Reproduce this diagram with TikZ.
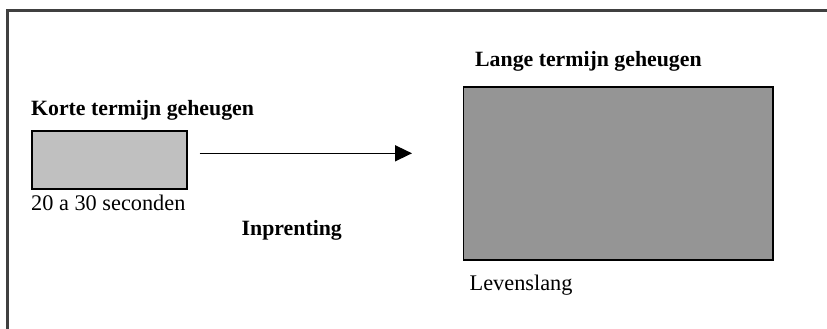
\documentclass[tikz,border=0pt]{standalone}
\usepackage{fontspec}
\setmainfont{Liberation Serif}
\usetikzlibrary{arrows.meta}
\definecolor{framegray}{HTML}{404040}
\definecolor{shortfill}{HTML}{C0C0C0}
\definecolor{longfill}{HTML}{959595}
\tikzset{
  memlabel/.style={anchor=base west, inner sep=0pt, font=\fontsize{21.8}{24}\selectfont\bfseries},
  notelabel/.style={anchor=base west, inner sep=0pt, font=\fontsize{22.3}{24}\selectfont},
  membox/.style={draw=black, line width=1.8pt},
  flow/.style={line width=1.6pt, -{Triangle[length=17pt, width=16pt]}}
}
\begin{document}
\begin{tikzpicture}[x=1pt, y=-1pt]
  \useasboundingbox (0,0) rectangle (827,329);
  \fill[white] (0,0) rectangle (827,329);
  \begin{scope}
    \clip (0,0) rectangle (827,329);
    % outer frame (runs past the right and bottom edges)
    \draw[framegray, line width=2.5pt] (7.5,345) -- (7.5,10.5) -- (845,10.5);
  \end{scope}

  % short-term memory
  \draw[membox, fill=shortfill] (32,131) rectangle (187,189);
  \coordinate (stm) at (187,160);
  \node[memlabel] (stmlabel) at (31,115) {Korte termijn geheugen};
  \node[notelabel] (stmtime) at (31,210) {20 a 30 seconden};

  % long-term memory
  \draw[membox, fill=longfill] (463.5,87) rectangle (773,260);
  \node[memlabel] (ltmlabel) at (475,66.5) {Lange termijn geheugen};
  \node[notelabel] (ltmtime) at (469.5,290) {Levenslang};

  % transfer arrow
  \coordinate (arrstart) at (199.5,153.3);
  \coordinate (arrend) at (412,153.3);
  \draw[flow] (arrstart) -- (arrend);
  \node[memlabel] (imprint) at (241.5,235) {Inprenting};
\end{tikzpicture}
\end{document}
